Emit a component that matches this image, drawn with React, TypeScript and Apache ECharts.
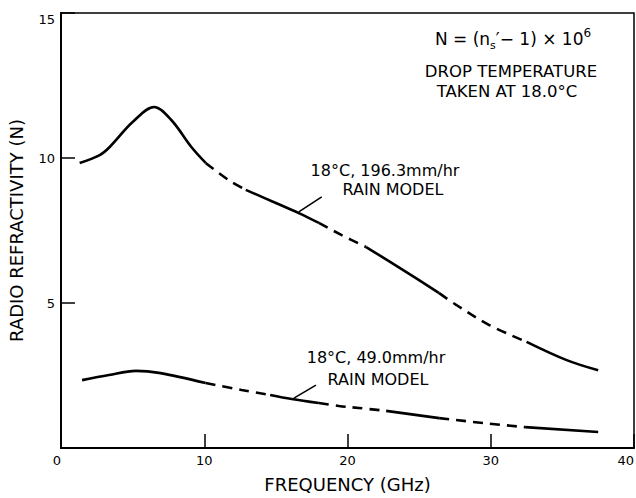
import { useEffect, useRef } from "react";
import * as echarts from "echarts";

// Frequency (GHz) / refractivity (N)
const upperX = [1.3, 2.7, 3.4, 5.0, 6.5, 7.7, 9.1, 10.1, 11.7, 12.9, 15.0, 16.6, 18.0, 19.6, 21.3, 24.0, 26.4, 27.6, 29.9, 32.5, 35.3, 37.5];
const upperY = [9.83, 10.1, 10.38, 11.24, 11.76, 11.31, 10.38, 9.83, 9.24, 8.9, 8.45, 8.1, 7.76, 7.34, 6.93, 6.1, 5.34, 4.93, 4.24, 3.66, 3.03, 2.68];
// [startIndex, endIndex, dashed]
const upperPieces: [number, number, boolean][] = [
  [0, 7, false], [7, 9, true], [9, 12, false], [12, 14, true], [14, 16, false], [16, 19, true], [19, 21, false],
];

const lowerX = [1.47, 3.35, 5.23, 6.84, 10.1, 12.6, 14.6, 16.1, 18.0, 19.4, 20.8, 22.7, 26.4, 29.5, 32.4, 37.5];
const lowerY = [2.34, 2.52, 2.66, 2.59, 2.24, 2.0, 1.83, 1.69, 1.55, 1.45, 1.38, 1.28, 1.03, 0.86, 0.72, 0.55];
const lowerPieces: [number, number, boolean][] = [
  [0, 4, false], [4, 6, true], [6, 8, false], [8, 11, true], [11, 12, false], [12, 14, true], [14, 15, false],
];

// Annotation arrows: [from, to] in data coordinates
const upperArrow = [[18.2, 8.66], [16.6, 8.14]];
const lowerArrow = [[17.8, 2.17], [16.26, 1.72]];

const upperLabel = ["18°C, 196.3mm/hr", "RAIN MODEL"];
const lowerLabel = ["18°C, 49.0mm/hr", "RAIN MODEL"];
const noteLines = ["DROP TEMPERATURE", "TAKEN AT 18.0°C"];

const xTitle = "FREQUENCY (GHz)";
const yTitle = "RADIO REFRACTIVITY (N)";

const FONT = "DejaVu Sans";

function buildPieces(name: string, xs: number[], ys: number[], pieces: [number, number, boolean][], arrow: number[][]) {
  return pieces.map(([s, e, dashed], k) => ({
    name,
    type: "line" as const,
    smooth: 0.35,
    showSymbol: false,
    silent: true,
    data: xs.slice(s, e + 1).map((x, i) => [x, ys[s + i]]),
    lineStyle: {
      color: "#000",
      width: 2.6,
      type: dashed ? [10, 7] : "solid",
      cap: "butt",
    },
    markLine:
      k === 0
        ? {
            silent: true,
            symbol: ["none", "arrow"],
            symbolSize: [0, 8],
            label: { show: false },
            lineStyle: { color: "#000", width: 1.6, type: "solid" },
            data: [[{ coord: arrow[0] }, { coord: arrow[1] }]],
          }
        : undefined,
  }));
}

export default function App() {
  const ref = useRef<HTMLDivElement>(null);
  useEffect(() => {
    document.body.style.margin = "0";
    const chart = echarts.init(ref.current!, null, { renderer: "svg" });
    const textBase = { fill: "#000", fontFamily: FONT, align: "center", verticalAlign: "middle" };
    chart.setOption({
      animation: false,
      backgroundColor: "#fff",
      grid: {
        left: 61,
        right: 2,
        top: 13,
        bottom: 50,
        show: true,
        borderColor: "#000",
        borderWidth: 1.5,
        outerBoundsMode: "none",
      },
      xAxis: {
        type: "value",
        min: 0,
        max: 40,
        interval: 10,
        name: xTitle,
        nameLocation: "middle",
        nameGap: 27,
        nameTextStyle: { color: "#000", fontFamily: FONT, fontSize: 18 },
        axisLine: { lineStyle: { color: "#000", width: 2 } },
        axisTick: { inside: true, length: 14, lineStyle: { color: "#000", width: 1.5 } },
        axisLabel: {
          color: "#000",
          fontFamily: FONT,
          fontSize: 13,
          margin: 6,
          alignMinLabel: "right",
          alignMaxLabel: "right",
        },
        splitLine: { show: false },
      },
      yAxis: {
        type: "value",
        min: 0,
        max: 15,
        interval: 5,
        name: yTitle,
        nameLocation: "middle",
        nameGap: 36,
        nameTextStyle: { color: "#000", fontFamily: FONT, fontSize: 18 },
        axisLine: { show: true, lineStyle: { color: "#000", width: 2 } },
        axisTick: { show: true, inside: true, length: 14, lineStyle: { color: "#000", width: 1.5 } },
        axisLabel: { color: "#000", fontFamily: FONT, fontSize: 13, margin: 6, showMinLabel: false, verticalAlignMaxLabel: "top" },
        splitLine: { show: false },
      },
      series: [
        ...buildPieces("196.3mm/hr", upperX, upperY, upperPieces, upperArrow),
        ...buildPieces("49.0mm/hr", lowerX, lowerY, lowerPieces, lowerArrow),
      ],
      graphic: [
        {
          type: "text",
          x: 513,
          y: 39,
          style: {
            ...textBase,
            text: "{m|N = (n}{s|s}{m|′− 1) × 10}{p|6}",
            rich: {
              m: { fontSize: 17, fontFamily: FONT, lineHeight: 24, fill: "#000" },
              s: { fontSize: 11, fontFamily: FONT, lineHeight: 11, verticalAlign: "bottom", fill: "#000" },
              p: { fontSize: 12, fontFamily: FONT, lineHeight: 12, verticalAlign: "top", fill: "#000" },
            },
          },
        },
        { type: "text", x: 511, y: 71, style: { ...textBase, text: noteLines[0], fontSize: 16.5 } },
        { type: "text", x: 507, y: 91, style: { ...textBase, text: noteLines[1], fontSize: 16.5 } },
        { type: "text", x: 385, y: 170, style: { ...textBase, text: upperLabel[0], fontSize: 16 } },
        { type: "text", x: 393, y: 189, style: { ...textBase, text: upperLabel[1], fontSize: 16 } },
        { type: "text", x: 376, y: 357, style: { ...textBase, text: lowerLabel[0], fontSize: 16 } },
        { type: "text", x: 378, y: 379, style: { ...textBase, text: lowerLabel[1], fontSize: 16 } },
      ],
    });
    return () => chart.dispose();
  }, []);
  return <div ref={ref} style={{ width: 636, height: 498 }} />;
}
